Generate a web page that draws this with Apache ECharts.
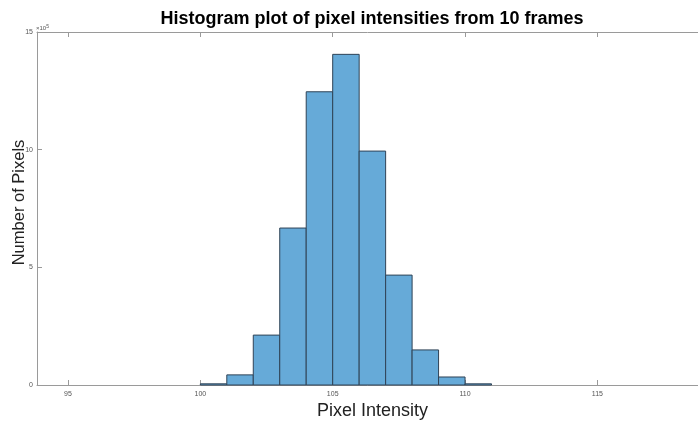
<!DOCTYPE html>
<html><head><meta charset="utf-8">
<script src="https://cdn.jsdelivr.net/npm/echarts@6/dist/echarts.min.js"></script>
<style>html,body{margin:0;padding:0;background:#fff}#c{width:698px;height:421px}</style>
</head><body><div id="c"></div>
<script>
const binEdges = [100,101,102,103,104,105,106,107,108,109,110,111];
const counts = [5000, 43000, 212000, 667000, 1246000, 1405000, 994000, 467000, 149000, 34000, 5000];
const xTicks = [95, 100, 105, 110, 115];
const yTicks = [0, 500000, 1000000, 1500000];
const titleText = 'Histogram plot of pixel intensities from 10 frames';
const xName = 'Pixel Intensity';
const yName = 'Number of Pixels';

const data = counts.map((c, i) => [binEdges[i], binEdges[i+1], c]);
const chart = echarts.init(document.getElementById('c'), null, {renderer:'canvas'});
const axisColor = '#9a9a9a';
chart.setOption({
  animation:false,
  title:{text:titleText,left:367,top:5,textAlign:'center',
    textStyle:{fontFamily:'Liberation Sans',fontWeight:'bold',fontSize:18,color:'#000'}},
  grid:{left:37,right:0,top:32,bottom:36,containLabel:false,outerBoundsMode:'none'},
  xAxis:[{type:'value',min:93.83,max:118.8,position:'bottom',
    axisLine:{show:true,onZero:false,lineStyle:{color:axisColor}},
    axisTick:{show:true,inside:true,length:5,customValues:xTicks,lineStyle:{color:axisColor}},
    axisLabel:{customValues:xTicks,fontSize:7,color:'#555',fontFamily:'Liberation Sans',margin:6},
    splitLine:{show:false}},
   {type:'value',min:93.83,max:118.8,position:'top',
    axisLine:{show:true,onZero:false,lineStyle:{color:axisColor}},
    axisTick:{show:true,inside:true,length:5,customValues:xTicks,lineStyle:{color:axisColor}},
    axisLabel:{show:false},splitLine:{show:false}}],
  yAxis:{type:'value',min:0,max:1500000,
    axisLine:{show:true,onZero:false,lineStyle:{color:axisColor}},
    axisTick:{show:true,inside:true,length:5,customValues:yTicks,lineStyle:{color:axisColor}},
    axisLabel:{customValues:yTicks,formatter:v=>String(Math.round(v/100000)),fontSize:7,color:'#555',fontFamily:'Liberation Sans',margin:4},
    splitLine:{show:false}},
  graphic:[
    {type:'text',left:36,top:24,style:{text:'{a|×10}{b|5}',
      rich:{a:{fontSize:6,fill:'#555',fontFamily:'Liberation Sans'},b:{fontSize:5,fill:'#555',verticalAlign:'top',padding:[0,0,4,0],fontFamily:'Liberation Sans'}}}},
    {type:'text',x:372.5,y:411,style:{text:xName,fontSize:18,fontFamily:'Liberation Sans',fill:'#222',align:'center',verticalAlign:'middle'}},
    {type:'text',x:19,y:202.5,rotation:Math.PI/2,style:{text:yName,fontSize:16.5,fontFamily:'Liberation Sans',fill:'#222',align:'center',verticalAlign:'middle'}}
  ],
  series:[{type:'custom',xAxisIndex:0,yAxisIndex:0,data:data,
    encode:{x:[0,1],y:2},
    renderItem:function(params,api){
      const p0 = api.coord([api.value(0), api.value(2)]);
      const p1 = api.coord([api.value(1), 0]);
      return {type:'rect',shape:{x:p0[0],y:p0[1],width:p1[0]-p0[0],height:p1[1]-p0[1]},
        style:{fill:'#66aad8',stroke:'#2f4356',lineWidth:1}};
    }}]
});
</script></body></html>
